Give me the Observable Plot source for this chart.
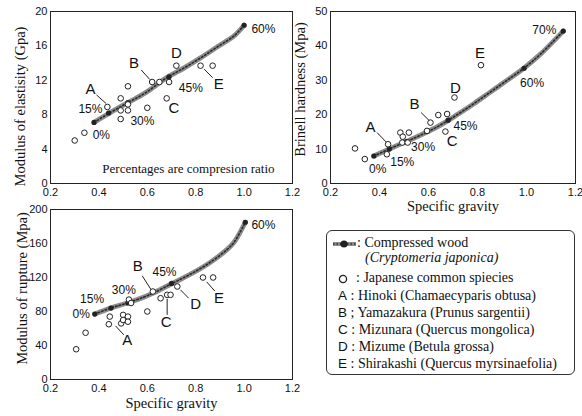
<!DOCTYPE html>
<html><head><meta charset="utf-8">
<script src="https://cdn.jsdelivr.net/npm/d3@7"></script>
<script src="https://cdn.jsdelivr.net/npm/@observablehq/plot@0.6"></script>
<style>
body{margin:0;background:#fff;}
#wrap{position:relative;width:582px;height:416px;overflow:hidden;background:#fff;}
#wrap > svg{position:absolute;}
.lg{position:absolute;left:326px;top:230px;width:249px;height:145px;border:1px solid #333;border-radius:6px;box-sizing:border-box;font-family:"Liberation Serif","Times New Roman",serif;font-size:14px;color:#111;}
.lg div{position:absolute;white-space:nowrap;line-height:14px;}
.k{font-family:"Liberation Sans",Arial,sans-serif;font-size:13.5px;}
</style></head><body><div id="wrap"></div>
<script>
// ---------- data ----------
const letters = ["A","B","C","D","E"];
const xTicks = [0.2,0.4,0.6,0.8,1.0,1.2];

// Modulus of elasticity (Gpa)
const moeSG  = [0.30,0.34,0.435,0.49,0.49,0.49,0.52,0.52,0.52,0.60,0.62,0.65,0.68,0.69,0.72,0.82,0.87];
const moeVal = [5.0,5.9,8.9,7.5,8.5,9.9,8.5,9.2,11.3,8.8,11.8,11.8,9.9,11.8,13.7,13.7,13.7];
const moeCurveSG  = [0.38,0.45,0.52,0.59,0.68,0.75,0.82,0.89,0.96,1.0];
const moeCurveVal = [7.1,8.3,9.4,10.5,12.3,13.4,14.6,15.9,17.2,18.4];
const moeMarkSG  = [0.38,0.44,0.52,0.69,1.0];
const moeMarkVal = [7.1,8.2,9.4,12.4,18.4];
const moePct  = ["0%","15%","30%","45%","60%"];
const moePctX = [0.41,0.365,0.58,0.78,1.08];
const moePctY = [5.65,8.6,7.2,11.1,18.0];
const moeLetX = [0.365,0.545,0.71,0.72,0.895];
const moeLetY = [11.0,14.0,8.8,15.1,11.5];
const moeLeadX1 = [0.39,0.575,0.835], moeLeadY1 = [10.3,13.2,13.3];
const moeLeadX2 = [0.43,0.61,0.87],  moeLeadY2 = [9.3,12.1,12.3];

// Brinell hardness (Mpa)
const brSG  = [0.30,0.34,0.435,0.43,0.485,0.52,0.495,0.493,0.515,0.594,0.608,0.64,0.676,0.669,0.706,0.814];
const brVal = [10.2,7.1,11.4,8.5,14.8,14.8,13.6,11.9,11.9,15.3,17.7,19.9,20.2,15.1,25,34.4];
const brCurveSG  = [0.377,0.445,0.513,0.581,0.649,0.717,0.785,0.853,0.921,0.989,1.057,1.15];
const brCurveVal = [8.0,10.2,12.3,14.5,17.0,20.0,23.2,26.6,30.0,33.5,37.6,44.3];
const brMarkSG  = [0.377,0.44,0.51,0.68,0.99,1.15];
const brMarkVal = [8.0,10.0,12.2,18.4,33.5,44.3];
const brPct  = ["0%","15%","30%","45%","60%","70%"];
const brPctX = [0.393,0.493,0.578,0.751,1.023,1.073];
const brPctY = [4.2,6.1,10.5,16.8,29.1,44.6];
const brLetX = [0.363,0.543,0.697,0.71,0.81];
const brLetY = [16.5,23.1,12.4,27.7,37.8];
const brLeadX1 = [0.39,0.57], brLeadY1 = [14.8,20.6];
const brLeadX2 = [0.428,0.603], brLeadY2 = [12.0,18.3];

// Modulus of rupture (Mpa)
const morSG  = [0.306,0.345,0.445,0.441,0.492,0.50,0.50,0.52,0.52,0.524,0.533,0.60,0.623,0.655,0.682,0.696,0.724,0.83,0.872];
const morVal = [35.6,55,74,65,66,76,70,74,68,94,90,80,103.5,95.6,99.6,99.6,109.4,120,120];
const morCurveSG  = [0.383,0.448,0.517,0.586,0.627,0.682,0.724,0.792,0.861,0.93,0.96,1.005];
const morCurveVal = [77,84,90,97,102,110,116,126,138,153,162,185];
const morMarkSG  = [0.383,0.45,0.52,0.70,1.005];
const morMarkVal = [77,84,90,113,185];
const morPct  = ["0%","15%","30%","45%","60%"];
const morPctX = [0.327,0.372,0.503,0.671,1.08];
const morPctY = [77.3,94.5,104.7,126,182];
const morLetX = [0.517,0.561,0.678,0.80,0.896];
const morLetY = [46.7,133,67,89,95.6];
const morLeadX1 = [0.469,0.579,0.682,0.737,0.845], morLeadY1 = [63,122,95,105.5,115];
const morLeadX2 = [0.503,0.616,0.682,0.771,0.879], morLeadY2 = [52.5,105.5,76,95.6,104];

// ---------- helpers ----------
const SANS = "Liberation Sans, Arial, sans-serif";
const SERIF = "Liberation Serif, Times New Roman, serif";
const pts = (xs, ys) => xs.map((x, i) => ({x, y: ys[i]}));
const labs = (t, xs, ys) => t.map((s, i) => ({t: s, x: xs[i], y: ys[i]}));
const leads = (a, b, c, d) => a.map((v, i) => ({x1: v, y1: b[i], x2: c[i], y2: d[i]}));

function panel(o) {
  const marks = [
    Plot.frame({stroke: "#222", strokeWidth: 1}),
    Plot.text([o.yTitle], {frameAnchor: "left", textAnchor: "middle", lineAnchor: "middle", rotate: -90, dx: o.titleDx, dy: o.titleDy, fontFamily: SERIF, fontSize: 14.5, fill: "#111"}),
    Plot.line(pts(o.cSG, o.cVal), {x: "x", y: "y", curve: "catmull-rom", stroke: "#8c8c8c", strokeWidth: 5}),
    Plot.line(pts(o.cSG, o.cVal), {x: "x", y: "y", curve: "catmull-rom", stroke: "#2a2a2a", strokeWidth: 1.6, strokeDasharray: "1.5 2.2"}),
    Plot.dot(pts(o.mSG, o.mVal), {x: "x", y: "y", r: 2.6, fill: "#222"}),
    Plot.link(o.leads, {x1: "x1", y1: "y1", x2: "x2", y2: "y2", stroke: "#222", strokeWidth: 1}),
    Plot.dot(pts(o.sg, o.val), {x: "x", y: "y", r: 2.8, stroke: "#222", fill: "white", strokeWidth: 1}),
    Plot.text(o.letters, {x: "x", y: "y", text: "t", fontFamily: SANS, fontSize: 15, fill: "#111"}),
    Plot.text(o.pct, {x: "x", y: "y", text: "t", fontFamily: SANS, fontSize: 12, fill: "#111"})
  ];
  if (o.xTitle) marks.push(Plot.text([o.xTitle], {frameAnchor: "bottom", textAnchor: "middle", dy: o.xTitleDy, fontFamily: SERIF, fontSize: 14.5, fill: "#111"}));
  if (o.note) marks.push(Plot.text([o.note.t], {x: o.note.x, y: o.note.y, fontFamily: SERIF, fontSize: 13, fill: "#111"}));
  const p = Plot.plot({
    width: o.w, height: o.h,
    marginLeft: o.ml, marginRight: o.mr, marginTop: o.mt, marginBottom: o.mb,
    style: {fontFamily: SANS, fontSize: "11px", color: "#111", background: "transparent", overflow: "visible"},
    x: {domain: [0.2, 1.2], ticks: xTicks, tickFormat: d => d.toFixed(1), tickSize: 0, tickPadding: 5, label: null},
    y: {domain: o.yDomain, ticks: o.yTicks, tickSize: 0, tickPadding: 3, label: null},
    marks
  });
  p.style.left = o.left + "px";
  p.style.top = o.top + "px";
  return p;
}

const wrap = document.getElementById("wrap");

wrap.appendChild(panel({
  left: 0, top: 0, w: 300, h: 200, ml: 50, mr: 8, mt: 11, mb: 17,
  yDomain: [0, 20], yTicks: [0, 4, 8, 12, 16, 20],
  yTitle: "Modulus of elastisity (Gpa)", titleDx: -30, titleDy: 9,
  sg: moeSG, val: moeVal, cSG: moeCurveSG, cVal: moeCurveVal, mSG: moeMarkSG, mVal: moeMarkVal,
  pct: labs(moePct, moePctX, moePctY), letters: labs(letters, moeLetX, moeLetY),
  leads: leads(moeLeadX1, moeLeadY1, moeLeadX2, moeLeadY2),
  note: {t: "Percentages are compresion ratio", x: 0.77, y: 1.67}
}));

wrap.appendChild(panel({
  left: 290, top: 0, w: 292, h: 220, ml: 40, mr: 7, mt: 11, mb: 37,
  yDomain: [0, 50], yTicks: [0, 10, 20, 30, 40, 50],
  yTitle: "Brinell hardness (Mpa)", titleDx: -30, titleDy: -8,
  xTitle: "Specific gravity", xTitleDy: 27,
  sg: brSG, val: brVal, cSG: brCurveSG, cVal: brCurveVal, mSG: brMarkSG, mVal: brMarkVal,
  pct: labs(brPct, brPctX, brPctY), letters: labs(letters, brLetX, brLetY),
  leads: leads(brLeadX1, brLeadY1, brLeadX2, brLeadY2)
}));

wrap.appendChild(panel({
  left: 0, top: 195, w: 300, h: 221, ml: 50, mr: 8, mt: 14, mb: 37,
  yDomain: [0, 200], yTicks: [0, 40, 80, 120, 160, 200],
  yTitle: "Modulus of rupture (Mpa)", titleDx: -28, titleDy: -6,
  xTitle: "Specific gravity", xTitleDy: 28,
  sg: morSG, val: morVal, cSG: morCurveSG, cVal: morCurveVal, mSG: morMarkSG, mVal: morMarkVal,
  pct: labs(morPct, morPctX, morPctY), letters: labs(letters, morLetX, morLetY),
  leads: leads(morLeadX1, morLeadY1, morLeadX2, morLeadY2)
}));

// ---------- legend ----------
const legendRows = [
  {sym: "curve", text: ": Compressed wood"},
  {sym: "none", text: "(Cryptomeria japonica)", italic: true},
  {sym: "circle", text: ": Japanese common spiecies"},
  {sym: "A", text: " : Hinoki (Chamaecyparis obtusa)"},
  {sym: "B", text: " ; Yamazakura (Prunus sargentii)"},
  {sym: "C", text: " : Mizunara (Quercus mongolica)"},
  {sym: "D", text: " : Mizume (Betula grossa)"},
  {sym: "E", text: " : Shirakashi (Quercus myrsinaefolia)"}
];
const rowCenters = [243, 258, 278, 296, 313, 330, 347, 364];
const lg = document.createElement("div");
lg.className = "lg";
legendRows.forEach((r, i) => {
  const top = rowCenters[i] - 230 - 8;
  const d = document.createElement("div");
  d.style.top = top + "px";
  if (r.sym === "curve") {
    d.style.left = "5px";
    d.innerHTML = `<svg width="25" height="12" style="vertical-align:middle"><line x1="1" y1="6" x2="24" y2="6" stroke="#8c8c8c" stroke-width="4"/><line x1="1" y1="6" x2="24" y2="6" stroke="#2a2a2a" stroke-width="1.5" stroke-dasharray="1.5 2"/><circle cx="12" cy="6" r="3.6" fill="#222"/></svg>${r.text}`;
  } else if (r.sym === "none") {
    d.style.left = "38px";
    d.innerHTML = `<i>${r.text}</i>`;
  } else if (r.sym === "circle") {
    d.style.left = "10px";
    d.innerHTML = `<svg width="12" height="12" style="vertical-align:middle"><circle cx="6" cy="6" r="3.6" fill="white" stroke="#222" stroke-width="1.3"/></svg>&nbsp;&nbsp;${r.text}`;
  } else {
    d.style.left = "11px";
    d.innerHTML = `<span class="k">${r.sym}</span>${r.text}`;
  }
  lg.appendChild(d);
});
wrap.appendChild(lg);
</script>
</body></html>
